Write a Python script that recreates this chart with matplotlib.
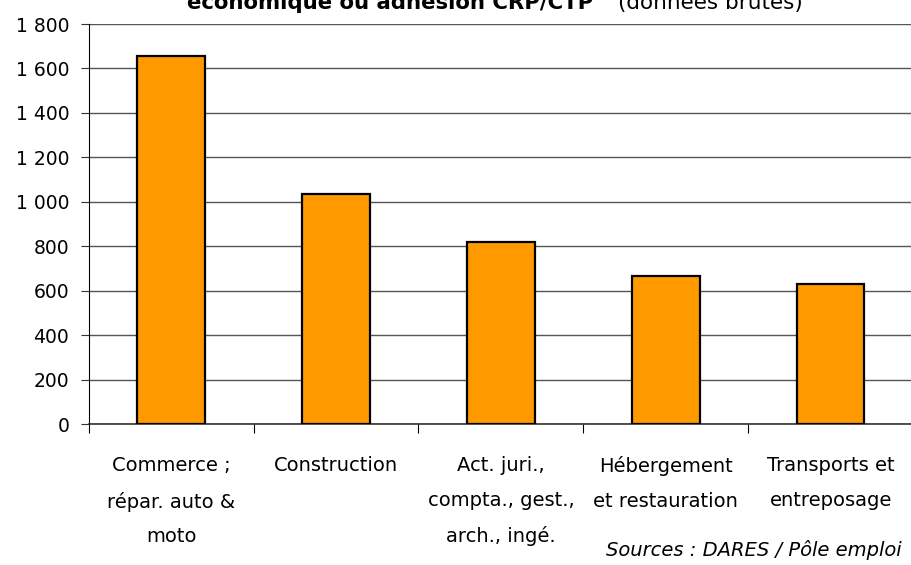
import matplotlib
matplotlib.use('Agg')
import matplotlib.pyplot as plt
import numpy as np

# Données
categories = ['Commerce ;\nrépar. auto &\nmoto', 'Construction',
              'Act. juri.,\ncompta., gest.,\narch., ingé.',
              'Hébergement\net restauration', 'Transports et\nentreposage']
valeurs = [1657, 1035, 820, 666, 631]
yticks = [0, 200, 400, 600, 800, 1000, 1200, 1400, 1600, 1800]
ytick_labels = ['0', '200', '400', '600', '800', '1 000', '1 200', '1 400', '1 600', '1 800']

plt.rcParams['font.family'] = ['DejaVu Sans']

fig = plt.figure(figsize=(9.11, 5.65), dpi=100)
ax = fig.add_axes([88.7 / 911, 1 - 424 / 565, (913 - 88.7) / 911, 400 / 565])

x = np.arange(len(categories))
ax.bar(x, valeurs, width=0.41, color='#FF9900', edgecolor='black', linewidth=1.6, zorder=3)

ax.set_xlim(-0.5, len(categories) - 0.5)
ax.set_ylim(0, 1800)
ax.set_yticks(yticks)
ax.set_yticklabels(ytick_labels, fontsize=13.5)
ax.yaxis.grid(True, color='#555555', linewidth=1, zorder=0)

# Ticks de l'axe x entre les catégories
ax.set_xticks(np.arange(-0.5, len(categories), 1.0))
ax.set_xticklabels([])
ax.set_xticks(x, minor=True)
ax.set_xticklabels(categories, minor=True, fontsize=14, linespacing=2.05)
ax.tick_params(axis='x', which='minor', length=0, pad=23)
ax.tick_params(axis='x', which='major', length=6.5, direction='out', color='black')
ax.tick_params(axis='y', length=6, direction='out', color='#333333', pad=8)

for s in ['top', 'right']:
    ax.spines[s].set_visible(False)
ax.spines['left'].set_color('black')
ax.spines['bottom'].set_color('#333333')
ax.spines['bottom'].set_linewidth(1.2)

# Titre (coupé en haut de l'image, comme dans l'original)
fig.text(187 / 911, 1 - 9 / 565, 'économique ou adhésion CRP/CTP', fontsize=15.3,
         fontweight='bold', va='baseline', ha='left')
fig.text(618 / 911, 1 - 9 / 565, '(données brutes)', fontsize=15.5,
         va='baseline', ha='left')

fig.text(902 / 911, 1 - 556 / 565, 'Sources : DARES / Pôle emploi', fontsize=14,
         style='italic', ha='right', va='baseline')

fig.savefig('out.png', dpi=100)
